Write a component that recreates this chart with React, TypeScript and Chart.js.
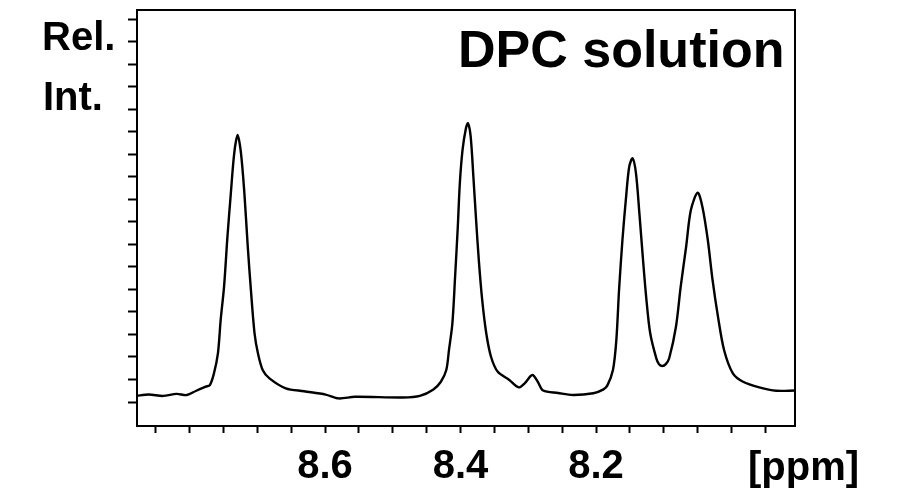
import React, { useEffect, useRef } from "react";
import { Chart, registerables } from "chart.js";

Chart.register(...registerables);

// Chemical shift (ppm) of sampled points along the spectrum trace
const ppmValues: number[] = [
  8.879, 8.86, 8.839, 8.819, 8.804, 8.79, 8.776, 8.77, 8.764, 8.758, 8.754, 8.749,
  8.744, 8.739, 8.734, 8.729, 8.724, 8.719, 8.714, 8.709, 8.704, 8.699, 8.692, 8.682,
  8.658, 8.631, 8.599, 8.58, 8.556, 8.485, 8.46, 8.44, 8.429, 8.421, 8.417, 8.412,
  8.408, 8.404, 8.401, 8.397, 8.392, 8.389, 8.385, 8.381, 8.377, 8.373, 8.368, 8.362,
  8.355, 8.345, 8.328, 8.314, 8.305, 8.294, 8.286, 8.278, 8.256, 8.234, 8.204, 8.189,
  8.183, 8.175, 8.17, 8.166, 8.161, 8.156, 8.151, 8.146, 8.141, 8.136, 8.131, 8.126,
  8.12, 8.111, 8.107, 8.102, 8.097, 8.092, 8.082, 8.075, 8.067, 8.06, 8.05, 8.043,
  8.035, 8.028, 8.02, 8.011, 7.998, 7.983, 7.959, 7.934, 7.906,
];

// Relative intensity at each sampled point
const intensityValues: number[] = [
  0.27, 0.33, 0.27, 0.36, 0.31, 0.5, 0.68, 0.75, 1.26, 2.17, 3.64, 5.12,
  7.34, 9.26, 11.04, 11.85, 11.04, 9.26, 6.89, 4.82, 3.05, 2.16, 1.42, 1.05,
  0.61, 0.48, 0.33, 0.16, 0.23, 0.2, 0.27, 0.56, 0.9, 1.42, 2.31, 3.49,
  5.56, 7.78, 9.71, 11.19, 12.15, 12.37, 11.78, 10.0, 8.08, 6.3, 4.53, 3.05,
  2.01, 1.34, 0.98, 0.65, 0.84, 1.2, 0.9, 0.51, 0.4, 0.31, 0.39, 0.56,
  0.75, 1.42, 2.75, 4.97, 7.19, 8.97, 10.44, 10.82, 10.15, 8.38, 6.45, 4.67,
  3.05, 1.94, 1.68, 1.6, 1.68, 1.94, 3.34, 5.12, 6.89, 8.52, 9.29, 8.67,
  7.19, 5.42, 3.79, 2.31, 1.27, 0.9, 0.65, 0.5, 0.51,
];

// Axis ticks
const xTickValues: number[] = [
  8.85, 8.8, 8.75, 8.7, 8.65, 8.6, 8.55, 8.5, 8.45, 8.4, 8.35, 8.3, 8.25, 8.2,
  8.15, 8.1, 8.05, 8.0, 7.95,
];
const xTickLabels: string[] = ["8.6", "8.4", "8.2"];
const yTickValues: number[] = [0, 1, 2, 3, 4, 5, 6, 7, 8, 9, 10, 11, 12, 13, 14, 15, 16, 17];

const xMin = 7.9063;
const xMax = 8.8775;
const yMin = -1.065;
const yMax = 17.4;

const FONT = "'Liberation Sans', Arial, sans-serif";

const textPlugin = {
  id: "frameAndText",
  afterDraw(chart: any) {
    const { ctx, chartArea } = chart;
    ctx.save();
    ctx.strokeStyle = "#000";
    ctx.lineWidth = 2;
    ctx.beginPath();
    ctx.moveTo(chartArea.left, chartArea.top);
    ctx.lineTo(chartArea.right, chartArea.top);
    ctx.lineTo(chartArea.right, chartArea.bottom);
    ctx.stroke();

    ctx.fillStyle = "#000";
    ctx.textBaseline = "alphabetic";
    ctx.font = `bold 40px ${FONT}`;
    ctx.textAlign = "left";
    ctx.fillText("Rel.", 42, 50);
    ctx.fillText("Int.", 43, 110);
    ctx.fillText("[ppm]", 748, 480);
    ctx.font = `bold 52px ${FONT}`;
    ctx.fillText("DPC solution", 458, 67);
    ctx.restore();
  },
};

export default function App() {
  const ref = useRef<HTMLCanvasElement | null>(null);

  useEffect(() => {
    document.body.style.margin = "0";
    if (!ref.current) return;
    const data = ppmValues.map((x, i) => ({ x, y: intensityValues[i] }));
    const chart = new Chart(ref.current, {
      type: "line",
      data: {
        datasets: [
          {
            data,
            borderColor: "#000",
            borderWidth: 2.4,
            pointRadius: 0,
            fill: false,
            tension: 0.3,
            borderJoinStyle: "round",
          },
        ],
      },
      options: {
        animation: false,
        responsive: true,
        maintainAspectRatio: false,
        layout: { padding: { top: 10, right: 109, left: 0, bottom: 0 } },
        plugins: { legend: { display: false }, tooltip: { enabled: false } },
        scales: {
          x: {
            type: "linear",
            reverse: true,
            min: xMin,
            max: xMax,
            afterBuildTicks: (scale: any) => {
              scale.ticks = xTickValues.map((v) => ({ value: v }));
            },
            afterFit: (scale: any) => {
              scale.height = 69;
            },
            border: { display: true, color: "#000", width: 2 },
            grid: {
              drawOnChartArea: false,
              drawTicks: true,
              tickLength: 7,
              tickColor: "#000",
              tickWidth: 2,
            },
            ticks: {
              autoSkip: false,
              maxRotation: 0,
              minRotation: 0,
              padding: 10,
              color: "#000",
              font: { family: FONT, size: 40, weight: "bold" },
              callback: (v: any) => {
                const s = Number(v).toFixed(1);
                return xTickLabels.includes(s) && Math.abs(Number(v) - Number(s)) < 1e-6 ? s : "";
              },
            },
          },
          y: {
            type: "linear",
            min: yMin,
            max: yMax,
            afterBuildTicks: (scale: any) => {
              scale.ticks = yTickValues.map((v) => ({ value: v }));
            },
            afterFit: (scale: any) => {
              scale.width = 137;
            },
            border: { display: true, color: "#000", width: 2 },
            grid: {
              drawOnChartArea: false,
              drawTicks: true,
              tickLength: 9,
              tickColor: "#000",
              tickWidth: 2,
            },
            ticks: { display: false },
          },
        },
      },
      plugins: [textPlugin],
    } as any);
    return () => chart.destroy();
  }, []);

  return (
    <div style={{ position: "absolute", left: 0, top: 0, width: 904, height: 495 }}>
      <canvas ref={ref} />
    </div>
  );
}
